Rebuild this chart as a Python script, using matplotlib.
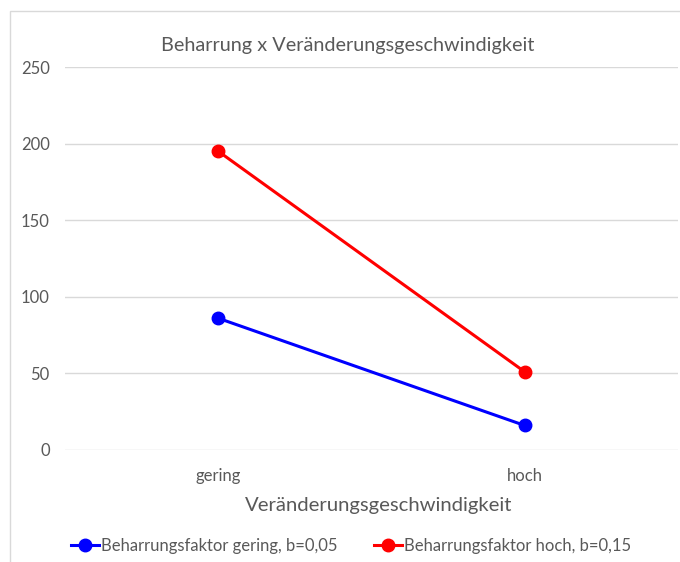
import matplotlib.pyplot as plt
from matplotlib.patches import Rectangle

categories = ["gering", "hoch"]
gering_b005 = [86, 16]
hoch_b015 = [195, 51]
yticks = [0, 50, 100, 150, 200, 250]

plt.rcParams['font.family'] = ['Lato', 'DejaVu Sans']
grey = '#595959'

fig = plt.figure(figsize=(6.8, 5.62), dpi=100)
ax = fig.add_axes([65/680, 1 - 450/562, 613/680, 383/562])

# chart frame
fig.patches.append(Rectangle((10/680, -0.05), 1.0, 0.05 + 1 - 11/562,
                             transform=fig.transFigure, fill=False,
                             edgecolor='#d9d9d9', linewidth=1.0))

x = [0, 1]
ax.plot(x, gering_b005, color='#0000ff', linewidth=2.2, marker='o',
        markersize=9, label='Beharrungsfaktor gering, b=0,05', zorder=3)
ax.plot(x, hoch_b015, color='#ff0000', linewidth=2.2, marker='o',
        markersize=9, label='Beharrungsfaktor hoch, b=0,15', zorder=3)

ax.set_xlim(-0.5, 1.5)
ax.set_ylim(0, 250)
ax.set_xticks(x)
ax.set_xticklabels(categories)
ax.set_yticks(yticks)
ax.tick_params(length=0, labelsize=12, labelcolor=grey)
ax.tick_params(axis='y', pad=11)
ax.tick_params(axis='x', pad=13)
ax.grid(axis='y', color='#d9d9d9', linewidth=1.0)
ax.set_axisbelow(True)
for s in ax.spines.values():
    s.set_visible(False)

fig.text(348/680, 1 - 45/562, "Beharrung x Veränderungsgeschwindigkeit",
         ha='center', va='center', fontsize=14.3, color=grey)
fig.text(379/680, 1 - 505/562, "Veränderungsgeschwindigkeit",
         ha='center', va='center', fontsize=14.6, color=grey)

leg = fig.legend(loc='center', bbox_to_anchor=(351/680, 1 - 546/562), ncol=2,
                 frameon=False, fontsize=12, handlelength=1.7,
                 handletextpad=0.1, columnspacing=2.2)
for t in leg.get_texts():
    t.set_color(grey)

fig.savefig('out.png', dpi=100)
